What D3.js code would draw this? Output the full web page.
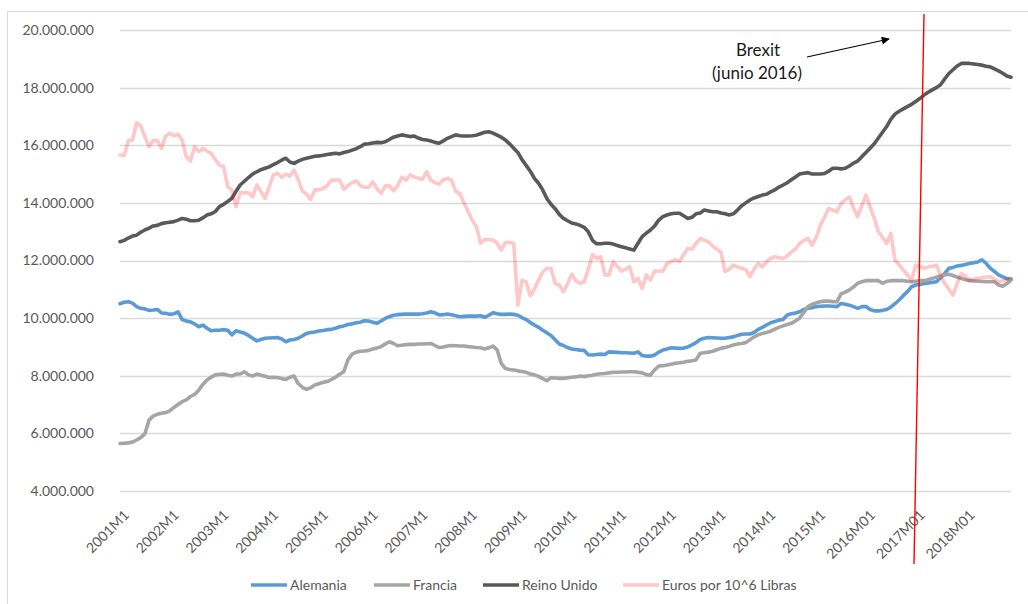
<!DOCTYPE html>
<html><head><meta charset="utf-8">
<script src="https://cdn.jsdelivr.net/npm/d3@7/dist/d3.min.js"></script>
<style>
html,body{margin:0;padding:0;background:#fff;}
svg{display:block;font-family:Lato,"Open Sans",sans-serif;}
</style></head>
<body><svg id="chart" width="1028" height="604"></svg>
<script>
// Monthly categories 2001M1 .. 2018M12
const years = d3.range(2001, 2019);
const categories = [];
years.forEach(y => { for (let m = 1; m <= 12; m++) categories.push(y + "M" + m); });

const tickLabels = ["2001M1","2002M1","2003M1","2004M1","2005M1","2006M1","2007M1","2008M1","2009M1",
  "2010M1","2011M1","2012M1","2013M1","2014M1","2015M1","2016M01","2017M01","2018M01"];
const yTicks = [4,6,8,10,12,14,16,18,20]; // millions

// Values in millions
const alemania = [
10.50,10.55,10.57,10.52,10.40,10.34,10.32,10.27,10.28,10.30,10.18,10.17,
10.13,10.15,10.22,9.95,9.90,9.87,9.80,9.70,9.76,9.65,9.56,9.58,
9.58,9.60,9.58,9.42,9.56,9.52,9.48,9.40,9.30,9.21,9.26,9.30,
9.31,9.32,9.33,9.28,9.18,9.24,9.26,9.30,9.38,9.47,9.50,9.52,
9.55,9.57,9.60,9.61,9.65,9.70,9.73,9.78,9.80,9.84,9.86,9.91,
9.90,9.86,9.82,9.90,9.99,10.05,10.10,10.12,10.13,10.14,10.14,10.14,
10.14,10.15,10.18,10.22,10.18,10.11,10.12,10.14,10.12,10.08,10.05,10.06,
10.07,10.07,10.07,10.08,10.03,10.10,10.19,10.15,10.13,10.13,10.14,10.13,
10.10,10.02,9.95,9.85,9.76,9.68,9.58,9.49,9.40,9.25,9.10,9.05,
8.98,8.93,8.91,8.89,8.88,8.73,8.72,8.74,8.75,8.74,8.83,8.82,
8.81,8.80,8.80,8.79,8.78,8.83,8.70,8.68,8.68,8.72,8.82,8.89,
8.93,8.97,8.96,8.95,8.96,9.00,9.07,9.15,9.26,9.30,9.33,9.32,
9.31,9.30,9.30,9.33,9.35,9.40,9.44,9.45,9.45,9.50,9.61,9.68,
9.76,9.84,9.88,9.93,9.95,10.11,10.15,10.18,10.22,10.30,10.34,10.36,
10.40,10.41,10.42,10.42,10.41,10.40,10.51,10.48,10.45,10.40,10.34,10.40,
10.40,10.30,10.25,10.25,10.27,10.30,10.38,10.50,10.63,10.78,10.92,11.09,
11.15,11.17,11.20,11.22,11.24,11.26,11.40,11.55,11.73,11.76,11.81,11.83,
11.86,11.90,11.92,11.95,12.02,11.90,11.73,11.62,11.50,11.43,11.37,11.35];

const francia = [
5.65,5.66,5.67,5.70,5.77,5.85,5.98,6.46,6.60,6.66,6.70,6.72,
6.78,6.90,7.00,7.10,7.16,7.28,7.35,7.50,7.70,7.85,7.95,8.03,
8.05,8.06,8.02,7.99,8.06,8.06,8.14,8.03,7.99,8.06,8.02,7.98,
7.94,7.95,7.94,7.90,7.87,7.95,7.99,7.73,7.60,7.53,7.58,7.68,
7.72,7.77,7.80,7.87,7.95,8.05,8.14,8.55,8.75,8.82,8.85,8.86,
8.88,8.93,8.96,9.01,9.10,9.18,9.12,9.04,9.06,9.08,9.09,9.09,
9.10,9.10,9.11,9.12,9.05,8.98,9.00,9.03,9.05,9.04,9.03,9.03,
9.01,9.00,8.98,8.97,8.93,8.97,9.03,8.90,8.43,8.25,8.22,8.20,
8.17,8.15,8.12,8.06,8.03,7.98,7.90,7.83,7.93,7.92,7.91,7.91,
7.93,7.95,7.96,7.99,7.97,8.00,8.02,8.05,8.07,8.08,8.10,8.12,
8.12,8.13,8.13,8.14,8.14,8.12,8.10,8.04,8.02,8.20,8.34,8.35,
8.37,8.40,8.43,8.45,8.47,8.50,8.52,8.55,8.78,8.80,8.82,8.85,
8.90,8.95,8.98,9.02,9.07,9.10,9.12,9.15,9.25,9.35,9.42,9.47,
9.50,9.55,9.62,9.68,9.73,9.78,9.82,9.90,10.00,10.20,10.40,10.48,
10.53,10.57,10.59,10.59,10.57,10.57,10.84,10.90,10.98,11.08,11.21,11.26,
11.30,11.30,11.30,11.30,11.21,11.28,11.30,11.30,11.30,11.30,11.28,11.26,
11.28,11.30,11.30,11.33,11.38,11.42,11.46,11.50,11.52,11.48,11.42,11.38,
11.33,11.30,11.29,11.28,11.27,11.26,11.26,11.26,11.15,11.11,11.20,11.32];

const reinoUnido = [
12.65,12.70,12.78,12.85,12.88,12.98,13.06,13.12,13.20,13.22,13.28,13.31,
13.33,13.35,13.40,13.46,13.43,13.38,13.38,13.40,13.48,13.58,13.62,13.70,
13.87,13.95,14.05,14.16,14.40,14.62,14.75,14.88,15.00,15.08,15.15,15.20,
15.25,15.33,15.40,15.48,15.55,15.42,15.37,15.45,15.51,15.55,15.58,15.62,
15.63,15.65,15.68,15.70,15.72,15.70,15.75,15.78,15.83,15.88,15.95,16.04,
16.05,16.08,16.10,16.09,16.12,16.20,16.28,16.32,16.36,16.33,16.30,16.32,
16.25,16.20,16.18,16.15,16.10,16.07,16.15,16.24,16.30,16.36,16.33,16.32,
16.32,16.33,16.35,16.40,16.45,16.47,16.42,16.35,16.28,16.18,16.05,15.90,
15.75,15.50,15.30,15.10,14.85,14.68,14.45,14.15,13.95,13.80,13.60,13.46,
13.38,13.30,13.27,13.22,13.15,13.00,12.70,12.58,12.58,12.60,12.60,12.57,
12.52,12.48,12.44,12.40,12.36,12.60,12.83,12.95,13.06,13.20,13.40,13.52,
13.58,13.62,13.64,13.64,13.55,13.46,13.50,13.62,13.65,13.75,13.72,13.69,
13.69,13.65,13.62,13.58,13.62,13.75,13.90,14.00,14.10,14.17,14.22,14.27,
14.30,14.38,14.45,14.55,14.62,14.70,14.80,14.90,15.00,15.03,15.05,15.00,
15.00,15.00,15.02,15.10,15.20,15.20,15.18,15.20,15.28,15.38,15.45,15.60,
15.75,15.90,16.05,16.25,16.45,16.65,16.90,17.08,17.18,17.26,17.34,17.42,
17.52,17.62,17.74,17.84,17.92,18.00,18.10,18.30,18.49,18.62,18.75,18.84,
18.84,18.84,18.82,18.80,18.78,18.74,18.72,18.65,18.58,18.50,18.40,18.36];

const euros = [
15.66,15.64,16.16,16.18,16.78,16.67,16.30,15.95,16.16,16.16,15.89,16.32,
16.41,16.33,16.38,16.18,15.60,15.45,15.95,15.78,15.89,15.80,15.72,15.50,
15.31,15.26,14.56,14.45,13.87,14.35,14.35,14.35,14.21,14.62,14.40,14.16,
14.55,14.97,15.03,14.89,15.00,14.93,15.14,14.80,14.42,14.30,14.12,14.45,
14.45,14.50,14.59,14.79,14.79,14.79,14.47,14.60,14.70,14.76,14.60,14.54,
14.54,14.73,14.50,14.33,14.59,14.59,14.42,14.60,14.89,14.79,14.97,14.90,
14.85,14.82,15.08,14.79,14.70,14.65,14.80,14.85,14.79,14.40,14.33,14.00,
13.70,13.40,13.17,12.60,12.73,12.72,12.71,12.60,12.36,12.62,12.62,12.60,
10.45,11.32,11.26,10.77,11.00,11.32,11.60,11.73,11.73,11.20,11.15,10.92,
11.20,11.52,11.30,11.21,11.26,11.70,12.21,12.07,12.13,11.50,11.50,11.96,
11.80,11.63,11.70,11.78,11.26,11.38,11.03,11.50,11.32,11.63,11.63,11.63,
11.90,11.96,12.02,11.96,12.20,12.42,12.39,12.60,12.77,12.70,12.65,12.50,
12.39,12.30,11.61,11.70,11.84,11.78,11.73,11.69,11.44,11.70,11.90,11.78,
11.95,12.07,12.13,12.10,12.07,12.15,12.30,12.40,12.59,12.70,12.77,12.53,
12.80,13.23,13.50,13.81,13.75,13.69,13.98,14.10,14.21,13.81,13.52,13.90,
14.27,13.85,13.46,13.00,12.80,12.59,12.94,12.02,11.85,11.67,11.50,11.32,
11.84,11.80,11.73,11.78,11.80,11.84,11.49,11.20,11.00,10.80,11.20,11.55,
11.45,11.32,11.35,11.38,11.40,11.42,11.44,11.35,11.26,11.30,11.34,11.38];

const seriesNames = ["Alemania","Francia","Reino Unido","Euros por 10^6 Libras"];
const seriesValues = [alemania, francia, reinoUnido, euros];
const seriesColors = ["#5b9bd5","#a5a5a5","#595959","rgba(255,0,0,0.22)"];
const legendColors = ["#5b9bd5","#a5a5a5","#595959","#ffc7c7"];

const svg = d3.select("#chart");
const x = d3.scalePoint().domain(categories).range([120, 1011]);
const y = d3.scaleLinear().domain([4, 20]).range([491, 30]);
const loc = d3.formatLocale({decimal:",", thousands:".", grouping:[3], currency:["",""]});
const fmt = loc.format(",d");

// outer border
svg.append("rect").attr("x",7.5).attr("y",11.5).attr("width",1040).attr("height",620)
  .attr("fill","none").attr("stroke","#d9d9d9").attr("stroke-width",1);

// grid + y labels
const gY = svg.append("g");
gY.selectAll("line").data(yTicks).join("line")
  .attr("x1",120).attr("x2",1011)
  .attr("y1",d=>Math.round(y(d))+0.5).attr("y2",d=>Math.round(y(d))+0.5)
  .attr("stroke","#d9d9d9").attr("stroke-width",1.3);
gY.selectAll("text").data(yTicks).join("text")
  .attr("x",94).attr("y",d=>y(d)).attr("dy","0.35em")
  .attr("text-anchor","end").attr("fill","#595959").attr("font-size",14)
  .text(d=>fmt(d*1e6));

// x labels
const tickCats = tickLabels.map((t,i)=>categories[i*12]);
svg.append("g").selectAll("text").data(tickLabels).join("text")
  .attr("transform",(d,i)=>`translate(${x(tickCats[i])+10},516) rotate(-45)`)
  .attr("text-anchor","end").attr("fill","#595959").attr("font-size",14)
  .text(d=>d);

// lines
const line = d3.line().x((d,i)=>x(categories[i])).y(d=>y(d));
svg.append("g").selectAll("path").data(seriesValues).join("path")
  .attr("d",d=>line(d)).attr("fill","none")
  .attr("stroke",(d,i)=>seriesColors[i]).attr("stroke-width",3.6)
  .attr("stroke-linejoin","round").attr("stroke-linecap","round");

// legend
const legendX = [251, 374, 483, 623];
const lg = svg.append("g").selectAll("g").data(seriesNames).join("g")
  .attr("transform",(d,i)=>`translate(${legendX[i]},585)`);
lg.append("line").attr("x1",0).attr("x2",36).attr("y1",0).attr("y2",0)
  .attr("stroke",(d,i)=>legendColors[i]).attr("stroke-width",3.6);
lg.append("text").attr("x",39).attr("y",0).attr("dy","0.35em")
  .attr("fill","#595959").attr("font-size",14).text(d=>d);

// Brexit annotation
svg.append("text").attr("x",758).attr("y",56).attr("text-anchor","middle")
  .attr("fill","#1a1a1a").attr("font-size",17).text("Brexit");
svg.append("text").attr("x",757).attr("y",79).attr("text-anchor","middle")
  .attr("fill","#1a1a1a").attr("font-size",17).text("(junio 2016)");
svg.append("defs").append("marker").attr("id","ah").attr("viewBox","0 0 10 10")
  .attr("refX",9).attr("refY",5).attr("markerWidth",10).attr("markerHeight",8)
  .attr("markerUnits","userSpaceOnUse").attr("orient","auto")
  .append("path").attr("d","M0,0 L10,5 L0,10 Z").attr("fill","#000");
svg.append("line").attr("x1",807).attr("y1",57).attr("x2",889).attr("y2",39)
  .attr("stroke","#000").attr("stroke-width",1.1).attr("marker-end","url(#ah)");

// red Brexit line
svg.append("line").attr("x1",924).attr("y1",14).attr("x2",914).attr("y2",564)
  .attr("stroke","#ff0000").attr("stroke-width",1.4);
</script></body></html>
